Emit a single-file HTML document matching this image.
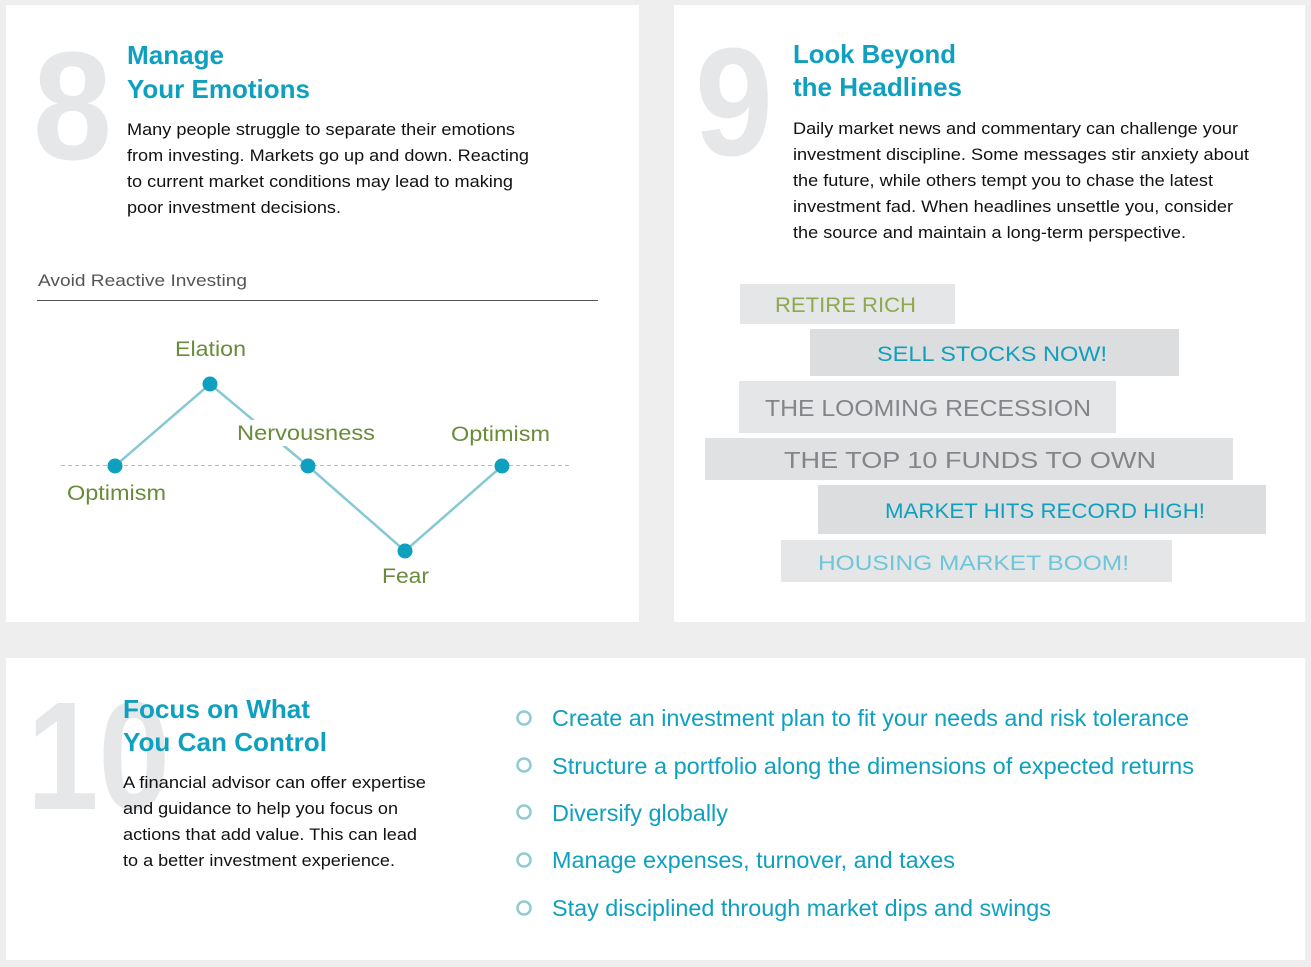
<!DOCTYPE html>
<html><head><meta charset="utf-8"><style>
html,body{margin:0;padding:0;background:#eeeeee;}
svg{display:block;font-family:"Liberation Sans",Arial,sans-serif;}
</style></head><body>
<svg width="1311" height="967" viewBox="0 0 1311 967" xmlns="http://www.w3.org/2000/svg">
<rect x="0" y="0" width="1311" height="967" fill="#eeeeee"/>
<rect x="6" y="5" width="633" height="617" fill="#fff"/>
<rect x="674" y="5" width="631" height="617" fill="#fff"/>
<rect x="6" y="658" width="1299" height="302" fill="#fff"/>

<!-- big numbers -->
<g fill="#e6e7e9" font-weight="bold" font-size="154">
<text x="33" y="159" textLength="79" lengthAdjust="spacingAndGlyphs">8</text>
<text x="695" y="155" textLength="78" lengthAdjust="spacingAndGlyphs">9</text>
<text x="27" y="809" textLength="143" lengthAdjust="spacingAndGlyphs">10</text>
</g>

<!-- titles -->
<g fill="#0fa0bf" font-weight="bold" font-size="26">
<text x="127" y="64" textLength="97" lengthAdjust="spacingAndGlyphs">Manage</text>
<text x="127" y="98" textLength="183" lengthAdjust="spacingAndGlyphs">Your Emotions</text>
<text x="793" y="63" textLength="163" lengthAdjust="spacingAndGlyphs">Look Beyond</text>
<text x="793" y="96" textLength="169" lengthAdjust="spacingAndGlyphs">the Headlines</text>
<text x="123" y="718" textLength="187" lengthAdjust="spacingAndGlyphs">Focus on What</text>
<text x="123" y="751" textLength="204" lengthAdjust="spacingAndGlyphs">You Can Control</text>
</g>

<!-- body text -->
<g fill="#111" font-size="17">
<text x="127" y="135" textLength="388" lengthAdjust="spacingAndGlyphs">Many people struggle to separate their emotions</text>
<text x="127" y="161" textLength="402" lengthAdjust="spacingAndGlyphs">from investing. Markets go up and down. Reacting</text>
<text x="127" y="187" textLength="386" lengthAdjust="spacingAndGlyphs">to current market conditions may lead to making</text>
<text x="127" y="213" textLength="214" lengthAdjust="spacingAndGlyphs">poor investment decisions.</text>

<text x="793" y="134" textLength="445" lengthAdjust="spacingAndGlyphs">Daily market news and commentary can challenge your</text>
<text x="793" y="160" textLength="456" lengthAdjust="spacingAndGlyphs">investment discipline. Some messages stir anxiety about</text>
<text x="793" y="186" textLength="420" lengthAdjust="spacingAndGlyphs">the future, while others tempt you to chase the latest</text>
<text x="793" y="212" textLength="440" lengthAdjust="spacingAndGlyphs">investment fad. When headlines unsettle you, consider</text>
<text x="793" y="238" textLength="393" lengthAdjust="spacingAndGlyphs">the source and maintain a long-term perspective.</text>

<text x="123" y="788" textLength="303" lengthAdjust="spacingAndGlyphs">A financial advisor can offer expertise</text>
<text x="123" y="814" textLength="275" lengthAdjust="spacingAndGlyphs">and guidance to help you focus on</text>
<text x="123" y="840" textLength="294" lengthAdjust="spacingAndGlyphs">actions that add value. This can lead</text>
<text x="123" y="866" textLength="272" lengthAdjust="spacingAndGlyphs">to a better investment experience.</text>
</g>

<!-- chart -->
<text x="38" y="286" font-size="17" fill="#555" textLength="209" lengthAdjust="spacingAndGlyphs">Avoid Reactive Investing</text>
<line x1="37" y1="300.5" x2="598" y2="300.5" stroke="#555" stroke-width="1"/>
<line x1="61" y1="465.5" x2="571" y2="465.5" stroke="#bbb" stroke-width="1" stroke-dasharray="4,3"/>
<polyline points="115,466 210,384 308,466 405,551 502,466" fill="none" stroke="#86c9d3" stroke-width="2.5"/>
<rect x="236" y="420" width="140" height="26" fill="#fff"/>
<g fill="#0fa0bf">
<circle cx="115" cy="466" r="7.5"/><circle cx="210" cy="384" r="7.5"/><circle cx="308" cy="466" r="7.5"/><circle cx="405" cy="551" r="7.5"/><circle cx="502" cy="466" r="7.5"/>
</g>
<g fill="#6a8c3a" font-size="21">
<text x="175" y="356" textLength="71" lengthAdjust="spacingAndGlyphs">Elation</text>
<text x="237" y="440" textLength="138" lengthAdjust="spacingAndGlyphs">Nervousness</text>
<text x="451" y="441" textLength="99" lengthAdjust="spacingAndGlyphs">Optimism</text>
<text x="67" y="500" textLength="99" lengthAdjust="spacingAndGlyphs">Optimism</text>
<text x="382" y="583" textLength="47" lengthAdjust="spacingAndGlyphs">Fear</text>
</g>

<!-- headlines -->
<rect x="740" y="284" width="215" height="40" fill="#e5e6e8"/>
<rect x="810" y="329" width="369" height="47" fill="#dcdddf"/>
<rect x="739" y="381" width="377" height="52" fill="#e5e6e8"/>
<rect x="705" y="438" width="528" height="42" fill="#e0e1e3"/>
<rect x="818" y="485" width="448" height="49" fill="#dcdddf"/>
<rect x="781" y="540" width="391" height="42" fill="#e5e6e8"/>
<g font-size="21">
<text x="775" y="312" fill="#8fa84e" textLength="141" lengthAdjust="spacingAndGlyphs">RETIRE RICH</text>
<text x="877" y="361" fill="#0fa0bf" textLength="230" lengthAdjust="spacingAndGlyphs">SELL STOCKS NOW!</text>
<text x="765" y="416" fill="#858589" font-size="23" textLength="326" lengthAdjust="spacingAndGlyphs">THE LOOMING RECESSION</text>
<text x="784" y="468" fill="#858589" font-size="23" textLength="372" lengthAdjust="spacingAndGlyphs">THE TOP 10 FUNDS TO OWN</text>
<text x="885" y="518" fill="#0fa0bf" textLength="320" lengthAdjust="spacingAndGlyphs">MARKET HITS RECORD HIGH!</text>
<text x="818" y="570" fill="#6fc6d8" textLength="311" lengthAdjust="spacingAndGlyphs">HOUSING MARKET BOOM!</text>
</g>

<!-- bullets -->
<g fill="none" stroke="#8fcbd6" stroke-width="2.5">
<circle cx="524" cy="718" r="6.5"/><circle cx="524" cy="765" r="6.5"/><circle cx="524" cy="812" r="6.5"/><circle cx="524" cy="860" r="6.5"/><circle cx="524" cy="908" r="6.5"/>
</g>
<g fill="#0fa0bf" font-size="23">
<text x="552" y="726" textLength="637" lengthAdjust="spacingAndGlyphs">Create an investment plan to fit your needs and risk tolerance</text>
<text x="552" y="774" textLength="642" lengthAdjust="spacingAndGlyphs">Structure a portfolio along the dimensions of expected returns</text>
<text x="552" y="821" textLength="176" lengthAdjust="spacingAndGlyphs">Diversify globally</text>
<text x="552" y="868" textLength="403" lengthAdjust="spacingAndGlyphs">Manage expenses, turnover, and taxes</text>
<text x="552" y="916" textLength="499" lengthAdjust="spacingAndGlyphs">Stay disciplined through market dips and swings</text>
</g>
</svg>
</body></html>
